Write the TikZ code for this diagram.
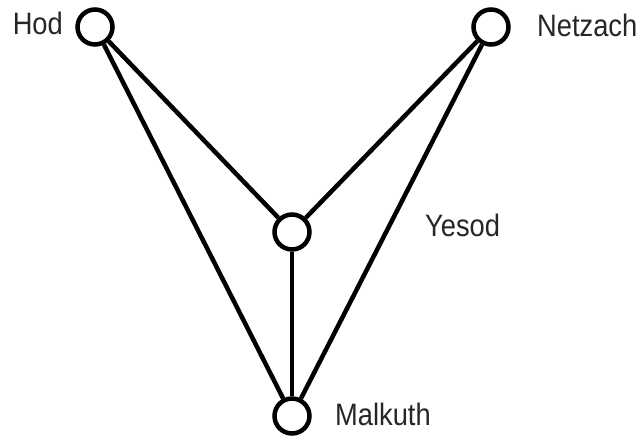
\documentclass[tikz,border=0pt]{standalone}
\usepackage{fontspec}
\newfontfamily\labfont[FakeStretch=0.88]{Liberation Sans}
\begin{document}
\begin{tikzpicture}[x=1pt,y=-1pt,
  sephira/.style={circle,draw,line width=4.5pt,minimum size=35pt,inner sep=0pt},
  path/.style={line width=4.5pt},
  lab/.style={inner sep=0pt,font=\labfont\fontsize{31}{34}\selectfont,text=black!85}]
\useasboundingbox (0,0) rectangle (642,438);
\node[sephira] (hod) at (95,27) {};
\node[sephira] (netzach) at (491,27) {};
\node[sephira] (yesod) at (292,232) {};
\node[sephira] (malkuth) at (292,416) {};
\draw[path] (hod) -- (yesod);
\draw[path] (hod) -- (malkuth);
\draw[path] (netzach) -- (yesod);
\draw[path] (netzach) -- (malkuth);
\draw[path] (yesod) -- (malkuth);
\node[lab,anchor=base east] (hodl) at (63,35) {Hod};
\node[lab,anchor=base west] (netzachl) at (537,37) {Netzach};
\node[lab,anchor=base west] (yesodl) at (425,237) {Yesod};
\node[lab,anchor=base west] (malkuthl) at (335,425) {Malkuth};
\end{tikzpicture}
\end{document}
